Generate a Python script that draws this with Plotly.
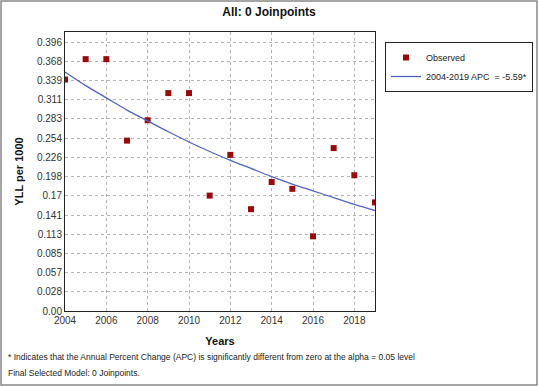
import plotly.graph_objects as go

years = list(range(2004, 2020))
observed = [0.341, 0.371, 0.371, 0.251, 0.281, 0.321, 0.321, 0.170,
            0.230, 0.150, 0.190, 0.180, 0.110, 0.240, 0.200, 0.160]
fitted = [0.352, 0.332, 0.314, 0.296, 0.280, 0.264, 0.249, 0.235,
          0.222, 0.210, 0.198, 0.187, 0.177, 0.167, 0.157, 0.148]
ytick_vals = [0.0, 0.0283, 0.0566, 0.0849, 0.1131, 0.1414, 0.1697, 0.1980,
              0.2263, 0.2546, 0.2829, 0.3111, 0.3394, 0.3677, 0.3960]
ytick_text = ["0.00", "0.028", "0.057", "0.085", "0.113", "0.141", "0.17", "0.198",
              "0.226", "0.254", "0.283", "0.311", "0.339", "0.368", "0.396"]
xtick_vals = [2004, 2006, 2008, 2010, 2012, 2014, 2016, 2018]

W, H = 538, 386
L, R, T, B = 65, 163, 32, 75
pw, ph = W - L - R, H - T - B

def px(x):
    return (x - L) / pw

def py(y):
    return 1 - (y - T) / ph

fig = go.Figure()
fig.add_trace(go.Scatter(x=years, y=observed, mode="markers", name="Observed",
                         marker=dict(symbol="square", size=6, color="#9b0a0a")))
fig.add_trace(go.Scatter(x=years, y=fitted, mode="lines", name="2004-2019 APC  = -5.59*",
                         line=dict(color="#5164c4", width=1.3, shape="spline")))

grid = dict(showgrid=True, gridcolor="#b4b4b4", griddash="dot", gridwidth=1)
fig.update_layout(
    width=W, height=H, autosize=False,
    margin=dict(l=L, r=R, t=T, b=B, autoexpand=False),
    paper_bgcolor="white", plot_bgcolor="white",
    font=dict(family="Liberation Sans, Arial, sans-serif", size=10, color="#333"),
    title=dict(text="<b>All: 0 Joinpoints</b>", x=0.5, xanchor="center", y=1 - 12 / H,
               yanchor="middle", font=dict(size=12, color="#111")),
    xaxis=dict(range=[2004, 2019], tickvals=xtick_vals, ticks="", showline=True,
               linecolor="#222", linewidth=1, mirror=True, zeroline=False,
               title=dict(text="<b>Years</b>", font=dict(size=11, color="#111"), standoff=12),
               **grid),
    yaxis=dict(range=[0, 0.411], tickvals=ytick_vals, ticktext=ytick_text, ticks="",
               showline=True, linecolor="#222", linewidth=1, mirror=True, zeroline=False,
               title=dict(text="<b>YLL per 1000</b>", font=dict(size=11, color="#111"), standoff=11),
               **grid),
    legend=dict(x=px(385), y=py(42), xanchor="left", yanchor="top",
                bordercolor="#222", borderwidth=1, bgcolor="white",
                font=dict(size=9, color="#222"), tracegroupgap=0, itemwidth=30),
    shapes=[dict(type="rect", xref="paper", yref="paper",
                 x0=px(1), x1=px(W - 1), y0=py(H - 1), y1=py(1),
                 line=dict(color="#888", width=1.5))],
    annotations=[
        dict(text="* Indicates that the Annual Percent Change (APC) is significantly different from zero at the alpha = 0.05 level",
             xref="paper", yref="paper", x=px(6), y=py(357), xanchor="left", yanchor="middle",
             showarrow=False, font=dict(size=8.5, color="#222")),
        dict(text="Final Selected Model: 0 Joinpoints.",
             xref="paper", yref="paper", x=px(6), y=py(373), xanchor="left", yanchor="middle",
             showarrow=False, font=dict(size=8.5, color="#222")),
    ],
)
fig.write_html(
    "out.html",
    config={"displayModeBar": False, "responsive": False},
    post_script="document.body.style.margin='0px';document.body.style.overflow='hidden';"
                "document.documentElement.style.overflow='hidden';",
)
